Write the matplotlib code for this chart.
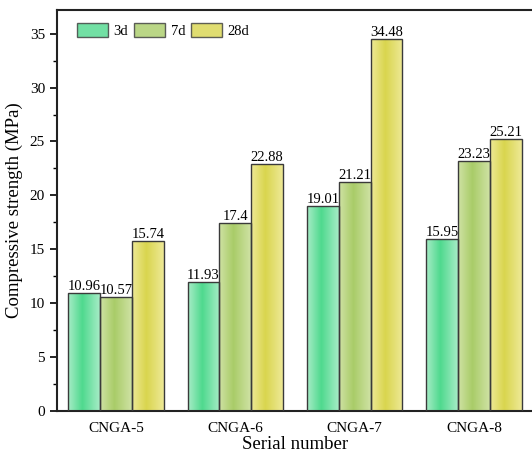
import numpy as np
import matplotlib.pyplot as plt
from matplotlib.colors import LinearSegmentedColormap
from matplotlib.ticker import MultipleLocator

samples = ['CNGA-5', 'CNGA-6', 'CNGA-7', 'CNGA-8']
ages = ['3d', '7d', '28d']
s3d = [10.96, 11.93, 19.01, 15.95]
s7d = [10.57, 17.4, 21.21, 23.23]
s28d = [15.74, 22.88, 34.48, 25.21]
values = [s3d, s7d, s28d]

# light edge -> saturated core -> light edge, one per curing age
shades = [
    ['#a6ecc6', '#4fd98e', '#a6ecc6'],
    ['#cfe2a4', '#a9cc68', '#cfe2a4'],
    ['#eee996', '#d9d54e', '#eee996'],
]
cmaps = [LinearSegmentedColormap.from_list('c%d' % i, [(0, s[0]), (0.45, s[1]), (1, s[2])])
         for i, s in enumerate(shades)]

plt.rcParams['font.family'] = 'Liberation Serif'

fig = plt.figure(figsize=(5.32, 4.57), dpi=100)
ax = fig.add_axes([0.107, 0.101, 0.895, 0.877])

x = np.arange(len(samples))
w = 0.8 / 3
grad = np.linspace(0, 1, 64).reshape(1, -1)

for i, (lab, vals) in enumerate(zip(ages, values)):
    pos = x + (i - 1) * w
    bars = ax.bar(pos, vals, w, color=shades[i][1], edgecolor='#3a3a3a', linewidth=1.0,
                  label=lab, zorder=3)
    for b in bars:
        b.set_facecolor('none')
        im = ax.imshow(grad, cmap=cmaps[i], aspect='auto', zorder=2,
                       extent=[b.get_x(), b.get_x() + b.get_width(), 0, b.get_height()])
        im.set_clip_path(b)
    ax.bar_label(bars, labels=[str(v) for v in vals], padding=0, fontsize=10.5, zorder=4)

ax.set_xlim(-0.495, 3.495)
ax.set_ylim(0, 37.2)
ax.set_xticks(x)
ax.set_xticklabels(samples, fontsize=11)
ax.tick_params(axis='x', length=0, pad=8)
ax.yaxis.set_major_locator(MultipleLocator(5))
ax.yaxis.set_minor_locator(MultipleLocator(2.5))
ax.tick_params(axis='y', which='major', length=5, width=1.2, labelsize=11, direction='out')
ax.tick_params(axis='y', which='minor', length=3, width=1.0, direction='out')
for s in ax.spines.values():
    s.set_linewidth(1.5)
    s.set_color('#222222')

ax.set_xlabel('Serial number', fontsize=13.5, labelpad=1)
ax.set_ylabel('Compressive strength (MPa)', fontsize=13.5, labelpad=5)

leg = ax.legend(loc='upper left', ncol=3, frameon=False, fontsize=10.5,
                handlelength=2.1, handleheight=1.1, columnspacing=0.4, handletextpad=0.4,
                bbox_to_anchor=(0.015, 1.0))
for h, s in zip(leg.legend_handles, shades):
    h.set_facecolor(s[1])
    h.set_alpha(0.8)

fig.savefig('out.png', dpi=100)
